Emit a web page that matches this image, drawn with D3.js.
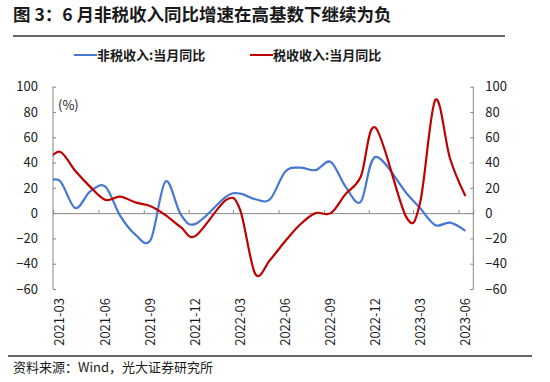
<!DOCTYPE html>
<html>
<head>
<meta charset="utf-8">
<script src="https://cdn.jsdelivr.net/npm/d3@7"></script>
<style>
  html, body { margin: 0; padding: 0; background: #fff; }
  svg { display: block; }
  text { font-family: "Noto Sans CJK SC", "Noto Sans", sans-serif; fill: #1a1a1a; }
</style>
</head>
<body>
<svg id="chart" width="550" height="382"></svg>
<script>
// ---- data ----
const months = [
  "2021-02","2021-03","2021-04","2021-05","2021-06","2021-07","2021-08","2021-09","2021-10","2021-11","2021-12",
  "2022-02","2022-03","2022-04","2022-05","2022-06","2022-07","2022-08","2022-09","2022-10","2022-11","2022-12",
  "2023-02","2023-03","2023-04","2023-05","2023-06"
];
const nonTaxYoY = [
  24, 25.5, 4, 17, 21, -2, -17, -21, 25, -1, -8.5,
  13, 15.5, 11, 11, 33, 36, 34, 40.5, 21, 9, 44.5,
  16, 4, -9.5, -7.5, -14
];
const taxYoY = [
  40, 48.5, 33.5, 21, 10.5, 13, 8.5, 5.5, -1.5, -11, -18,
  10.5, 3, -48, -37, -22, -9, 0, 0, 15, 29, 67.5,
  -3, 8, 89.5, 43, 13.5
];
const xTickLabels = ["2021-03","2021-06","2021-09","2021-12","2022-03","2022-06","2022-09","2022-12","2023-03","2023-06"];
const yTicks = [-60, -40, -20, 0, 20, 40, 60, 80, 100];
const seriesNames = ["非税收入:当月同比", "税收收入:当月同比"];
const seriesColors = ["#4677d1", "#c00000"];

// ---- layout ----
const svg = d3.select("#chart");
const pL = 53, pR = 473.3, pT = 86.7, pB = 289;
const parseMonth = d3.timeParse("%Y-%m");
const midMonth = s => d3.timeDay.offset(parseMonth(s), 14);
const monthStart = s => parseMonth(s);

const x = d3.scaleTime()
  .domain([parseMonth("2021-03"), parseMonth("2023-07")])
  .range([pL, pR]);
const y = d3.scaleLinear().domain([-60, 100]).range([pB, pT]);

// title
svg.append("text").attr("x", 13).attr("y", 15).attr("dy", "0.35em")
  .style("font-size", "17.5px").style("font-weight", "bold")
  .text("图 3：6 月非税收入同比增速在高基数下继续为负");
svg.append("line").attr("x1", 13).attr("x2", 505).attr("y1", 36).attr("y2", 36)
  .attr("stroke", "#333").attr("stroke-width", 1.5);

// legend
const legendX = [74, 250];
seriesNames.forEach((n, i) => {
  svg.append("line").attr("x1", legendX[i]).attr("x2", legendX[i] + 23)
    .attr("y1", 55).attr("y2", 55).attr("stroke", seriesColors[i]).attr("stroke-width", 2);
  svg.append("text").attr("x", legendX[i] + 23).attr("y", 55).attr("dy", "0.35em")
    .style("font-size", "13px").style("font-weight", "bold").text(n);
});

// axes
const axisColor = "#868686";
const yLeft = d3.axisLeft(y).tickValues(yTicks).tickSize(-3).tickPadding(14);
const gL = svg.append("g").attr("transform", `translate(${pL},0)`).call(yLeft);
const yRight = d3.axisRight(y).tickValues(yTicks).tickSize(-3).tickPadding(14);
const gR = svg.append("g").attr("transform", `translate(${pR},0)`).call(yRight);
[gL, gR].forEach(g => {
  g.select(".domain").attr("stroke", axisColor).attr("d", `M0,${pT}V${pB}`);
  g.selectAll(".tick line").attr("stroke", axisColor);
  g.selectAll(".tick text").style("font-size", "13px").attr("fill", "#1a1a1a")
    .style("font-family", "'Noto Sans CJK SC', sans-serif");
});
gL.selectAll(".tick text").attr("x", -15);
gR.selectAll(".tick text").attr("x", 12);

// x axis at zero
const tickDates = xTickLabels.map(monthStart);
const xAxis = d3.axisBottom(x).tickValues(tickDates).tickSize(-3).tickFormat("");
const gX = svg.append("g").attr("transform", `translate(0,${y(0)})`).call(xAxis);
gX.select(".domain").attr("stroke", axisColor);
gX.selectAll(".tick line").attr("stroke", axisColor);

// x labels (rotated)
svg.append("g").selectAll("text").data(xTickLabels).join("text")
  .attr("transform", d => `translate(${x(midMonth(d))},298) rotate(-90)`)
  .attr("text-anchor", "end").attr("dy", "0.35em")
  .style("font-size", "13px").text(d => d);

// unit label
svg.append("text").attr("x", 58).attr("y", 105).attr("dy", "0.35em")
  .style("font-size", "13px").text("(%)");

// lines
svg.append("clipPath").attr("id", "plotclip").append("rect")
  .attr("x", pL).attr("y", 0).attr("width", pR - pL).attr("height", 382);
const line = d3.line().x(d => x(d.date)).y(d => y(d.v)).curve(d3.curveCardinal.tension(0));
[nonTaxYoY, taxYoY].forEach((vals, i) => {
  const data = months.map((m, j) => ({ date: midMonth(m), v: vals[j] }));
  svg.append("path").datum(data).attr("d", line).attr("fill", "none")
    .attr("stroke", seriesColors[i]).attr("stroke-width", 2.2)
    .attr("clip-path", "url(#plotclip)");
});

// footer
svg.append("line").attr("x1", 8).attr("x2", 532).attr("y1", 356).attr("y2", 356)
  .attr("stroke", "#333").attr("stroke-width", 1.5);
svg.append("text").attr("x", 13).attr("y", 367).attr("dy", "0.35em")
  .style("font-size", "13px").text("资料来源：Wind，光大证券研究所");
</script>
</body>
</html>
